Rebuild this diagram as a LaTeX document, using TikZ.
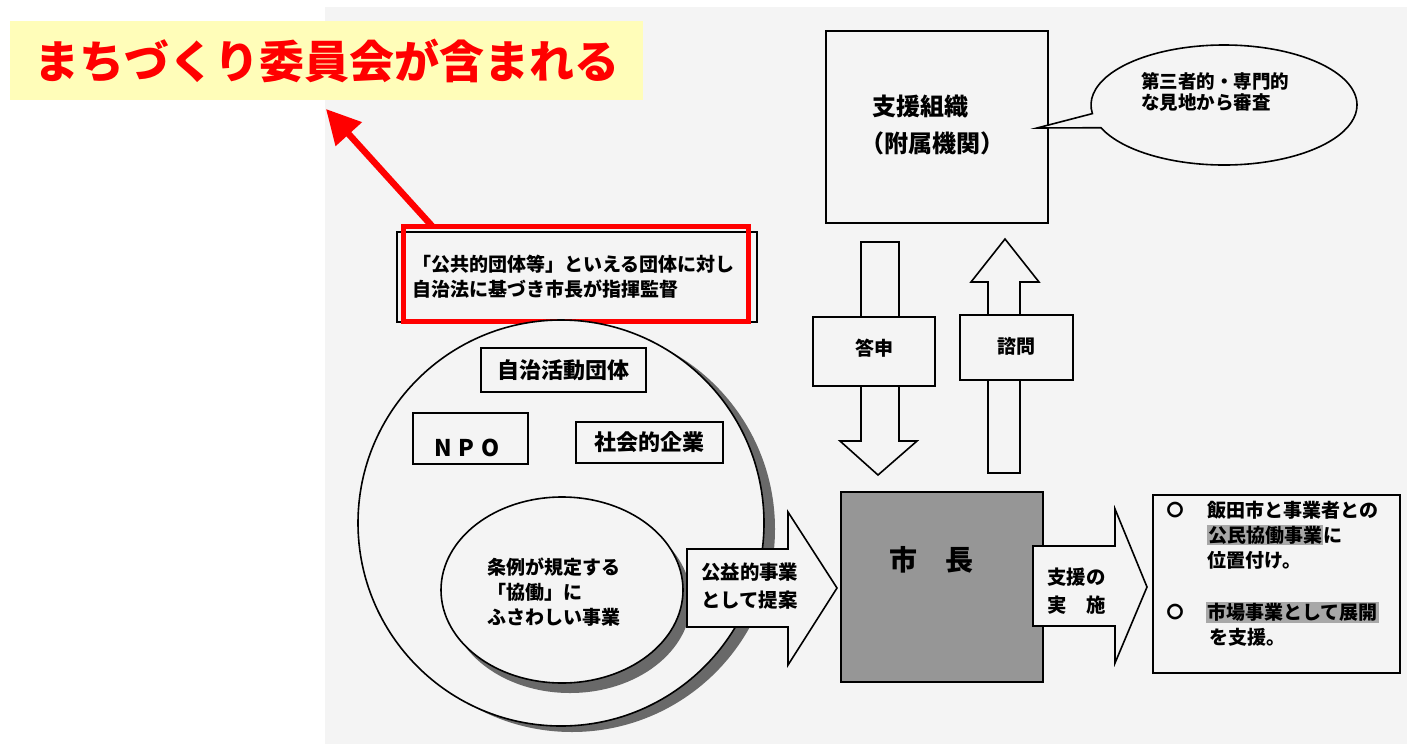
\documentclass[tikz,border=0pt]{standalone}
\usepackage{fontspec}
\newfontfamily\jp{Noto Sans CJK JP}
\usetikzlibrary{arrows.meta,shapes.geometric,shapes.callouts}
\definecolor{bg}{RGB}{244,244,244}
\definecolor{hlyellow}{RGB}{255,253,185}
\definecolor{mayorgray}{RGB}{150,150,150}
\definecolor{shadowgray}{RGB}{105,105,105}
\definecolor{hlgray}{RGB}{168,168,168}
\newcommand{\hlg}[1]{{\setlength{\fboxsep}{1pt}\colorbox{hlgray}{#1}}}
\begin{document}
\begin{tikzpicture}[x=1pt,y=-1pt,
  ln/.style={draw=black, line width=1.6pt},
  jtxt/.style={font=\jp\bfseries\fontsize{19}{25}\selectfont, inner sep=0pt, align=left},
  rectbox/.style={ln, fill=bg, rectangle, inner sep=0pt},
  blockarrow/.style={ln, fill=bg, line join=miter}]
\useasboundingbox (0,0) rectangle (1407,744);
\fill[bg] (325,7) rectangle (1407,744);

% title label
\node[fill=hlyellow, minimum width=633pt, minimum height=79pt, inner sep=0pt,
      text=red, font=\jp\bfseries\fontsize{45}{50}\selectfont] (title) at (326.5,60.5) {まちづくり委員会が含まれる};

% supervision box
\node[rectbox, minimum width=360pt, minimum height=90pt] (govbox) at (577,277) {};
\node[draw=red, line width=5pt, minimum width=345pt, minimum height=95pt, inner sep=0pt] (redbox) at (575.5,273.5) {};
\node[jtxt, anchor=west] (govtxt) at (412,277) {「公共的団体等」といえる団体に対し\\自治法に基づき市長が指揮監督};
\coordinate (rstart) at (432,226);
\coordinate (rtip) at (326,109);
\draw[red, line width=6.5pt, -{Triangle[length=34pt,width=34pt]}] (rstart) -- (rtip);

% big circle with shadow
\node[circle, fill=shadowgray, minimum size=406pt, inner sep=0pt] (bigsh) at (572,529) {};
\node[circle, ln, fill=bg, minimum size=406pt, inner sep=0pt] (bigc) at (561,523) {};

% boxes in circle
\node[rectbox, minimum width=165pt, minimum height=44pt] (jichi) at (563.5,370) {};
\node[jtxt, font=\jp\bfseries\fontsize{22}{26}\selectfont] (jichitxt) at (563.5,370) {自治活動団体};
\node[rectbox, minimum width=115pt, minimum height=51pt] (npo) at (470.5,438.5) {};
\node[jtxt, font=\jp\bfseries\fontsize{23}{26}\selectfont] (npotxt) at (467,448) {N\kern7pt P\kern7pt O};
\node[rectbox, minimum width=147pt, minimum height=41pt] (social) at (649.5,442.5) {};
\node[jtxt, font=\jp\bfseries\fontsize{22}{26}\selectfont] (socialtxt) at (649.5,442) {社会的企業};

% inner ellipse with shadow
\node[ellipse, fill=shadowgray, minimum width=242pt, minimum height=186pt, inner sep=0pt] (insh) at (570,600) {};
\node[ellipse, ln, fill=bg, minimum width=242pt, minimum height=186pt, inner sep=0pt] (inell) at (562,590) {};
\node[jtxt, anchor=west] (intxt) at (487,592) {条例が規定する\\「協働」に\\ふさわしい事業};

% proposal arrow
\draw[blockarrow] (687,549) -- (788,549) -- (788,512) -- (837,588) -- (788,665) -- (788,627) -- (687,627) -- cycle;
\node[jtxt, anchor=west, font=\jp\bfseries\fontsize{19.4}{28}\selectfont] (proptxt) at (701,586) {公益的事業\\として提案};

% mayor
\node[rectbox, fill=mayorgray, minimum width=202pt, minimum height=190pt] (mayor) at (942,587) {};
\node[jtxt, font=\jp\bfseries\fontsize{28}{30}\selectfont] (mayortxt) at (931,560) {市　長};

% support arrow
\draw[blockarrow] (1033,546) -- (1115,546) -- (1115,509) -- (1147,587) -- (1115,663) -- (1115,626) -- (1033,626) -- cycle;
\node[jtxt, anchor=west, font=\jp\bfseries\fontsize{19.4}{28}\selectfont] (supptxt) at (1047,591) {支援の\\実　施};

% right result box
\node[rectbox, minimum width=247pt, minimum height=178pt] (result) at (1276.5,584) {};
\node[jtxt, font=\jp\bfseries\fontsize{17}{20}\selectfont] (bul1) at (1175,510) {〇};
\node[jtxt, anchor=west] (res1) at (1207,535) {飯田市と事業者との\\\hlg{公民協働事業}に\\位置付け。};
\node[jtxt, font=\jp\bfseries\fontsize{17}{20}\selectfont] (bul2) at (1175,612) {〇};
\node[jtxt, anchor=west] (res2) at (1206,624.5) {\hlg{市場事業として展開}\\\,を支援。};

% support organisation
\node[rectbox, minimum width=222pt, minimum height=192pt] (org) at (937,127) {};
\node[jtxt, anchor=west, font=\jp\bfseries\fontsize{24}{28}\selectfont] (orgtxt1) at (872,106) {支援組織};
\node[jtxt, anchor=west, font=\jp\bfseries\fontsize{24}{28}\selectfont] (orgtxt2) at (860,143) {（附属機関）};

% callout
\coordinate (tailpt) at (1037,128);
\node[ellipse callout, ln, fill=bg, minimum width=266pt, minimum height=120pt, inner sep=0pt,
      callout absolute pointer=(tailpt), callout pointer arc=14] (callout) at (1224,105) {};
\node[jtxt, anchor=west, font=\jp\bfseries\fontsize{18.5}{21}\selectfont] (callouttxt) at (1141,92) {第三者的・専門的\\な見地から審査};

% 答申 down arrow
\draw[blockarrow] (861,242) -- (899,242) -- (899,441) -- (917,441) -- (878,475) -- (840,441) -- (861,441) -- cycle;
\node[rectbox, minimum width=122pt, minimum height=69pt] (toushin) at (874,351.5) {};
\node[jtxt] (toushintxt) at (874,348) {答申};

% 諮問 up arrow
\draw[blockarrow] (988,473) -- (1020,473) -- (1020,282) -- (1039,282) -- (1005,239) -- (971,282) -- (988,282) -- cycle;
\node[rectbox, minimum width=113pt, minimum height=65pt] (shimon) at (1016.5,347.5) {};
\node[jtxt] (shimontxt) at (1016.5,346) {諮問};
\end{tikzpicture}
\end{document}
